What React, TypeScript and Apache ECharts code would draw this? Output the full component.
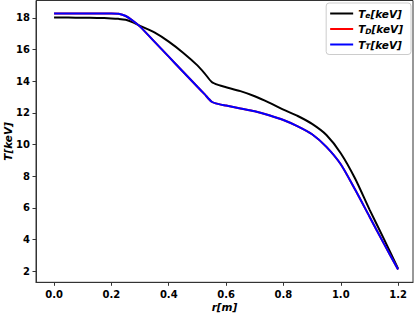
import React, { useEffect, useRef } from "react";
import * as echarts from "echarts";

const rValues = [0, 0.05, 0.1, 0.15, 0.2, 0.225, 0.25, 0.275, 0.3, 0.35, 0.4, 0.45, 0.5, 0.525, 0.55, 0.575, 0.6, 0.65, 0.7, 0.75, 0.8, 0.85, 0.9, 0.95, 1.0, 1.05, 1.1, 1.15, 1.2];
const teValues = [18.02, 18.02, 18.01, 18.0, 17.97, 17.94, 17.88, 17.72, 17.5, 17.08, 16.5, 15.8, 15.0, 14.5, 13.95, 13.75, 13.62, 13.37, 13.05, 12.65, 12.2, 11.8, 11.3, 10.6, 9.45, 7.85, 5.9, 4.05, 2.15];
const tdValues = [18.28, 18.28, 18.28, 18.28, 18.28, 18.26, 18.12, 17.82, 17.45, 16.5, 15.55, 14.6, 13.65, 13.18, 12.7, 12.55, 12.46, 12.28, 12.1, 11.85, 11.55, 11.15, 10.65, 9.85, 8.75, 7.15, 5.45, 3.75, 2.1];
const ttValues = [18.28, 18.28, 18.28, 18.28, 18.28, 18.26, 18.12, 17.82, 17.45, 16.5, 15.55, 14.6, 13.65, 13.18, 12.7, 12.55, 12.46, 12.28, 12.1, 11.85, 11.55, 11.15, 10.65, 9.85, 8.75, 7.15, 5.45, 3.75, 2.1];
const xTicks = [0, 0.2, 0.4, 0.6, 0.8, 1.0, 1.2];
const yTicks = [2, 4, 6, 8, 10, 12, 14, 16, 18];
const seriesNames = ["Te", "TD", "TT"];
const seriesColors = ["#000000", "#ff0000", "#0000ff"];

const FONT = "DejaVu Sans";

export default function App() {
  const ref = useRef<HTMLDivElement>(null);
  useEffect(() => {
    if (!ref.current) return;
    const chart = echarts.init(ref.current, null, { renderer: "svg" });
    const allValues = [teValues, tdValues, ttValues];
    chart.setOption({
      animation: false,
      backgroundColor: "#ffffff",
      grid: {
        left: 36,
        right: 2,
        top: 0.5,
        bottom: 32.7,
        show: true,
        borderColor: "#333",
        borderWidth: 1,
        containLabel: false,
        outerBoundsMode: "none",
      },
      legend: {
        orient: "vertical",
        right: 4,
        top: 3,
        padding: [5, 8, 4, 4],
        itemGap: 4,
        itemWidth: 23,
        itemHeight: 2,
        icon: "rect",
        borderColor: "#cccccc",
        borderWidth: 1,
        borderRadius: 3,
        backgroundColor: "rgba(255,255,255,0.8)",
        data: seriesNames,
        formatter: (name: string) => `{a|T}{s|${name.slice(1)}}{a|[keV]}`,
        textStyle: {
          rich: {
            a: { fontFamily: FONT, fontWeight: "bold", fontStyle: "italic", fontSize: 10.5, color: "#000", lineHeight: 12, verticalAlign: "middle" },
            s: { fontFamily: FONT, fontWeight: "bold", fontStyle: "italic", fontSize: 7.5, color: "#000", lineHeight: 8, verticalAlign: "bottom" },
          },
        },
      },
      xAxis: {
        type: "value",
        min: -0.063,
        max: 1.252,
        name: "r[m]",
        nameLocation: "middle",
        nameGap: 19,
        nameMoveOverlap: false,
        nameTextStyle: { fontFamily: FONT, fontWeight: "bold", fontStyle: "italic", fontSize: 10.5, color: "#000", verticalAlign: "top" },
        axisLine: { show: true, onZero: false, lineStyle: { color: "#333", width: 1 } },
        axisTick: { show: true, length: 3.5, inside: false, customValues: xTicks, lineStyle: { color: "#333" } },
        axisLabel: {
          show: true,
          margin: 7,
          fontFamily: FONT,
          fontWeight: "bold",
          fontSize: 10,
          color: "#000",
          customValues: xTicks,
          formatter: (v: number) => v.toFixed(1),
        },
        splitLine: { show: false },
      },
      yAxis: {
        type: "value",
        min: 1.29,
        max: 19.1,
        name: "T[keV]",
        nameLocation: "middle",
        nameGap: 23,
        nameMoveOverlap: false,
        nameTextStyle: { fontFamily: FONT, fontWeight: "bold", fontStyle: "italic", fontSize: 10.5, color: "#000" },
        axisLine: { show: true, onZero: false, lineStyle: { color: "#333", width: 1 } },
        axisTick: { show: true, length: 3.5, inside: false, customValues: yTicks, lineStyle: { color: "#333" } },
        axisLabel: {
          show: true,
          margin: 6,
          fontFamily: FONT,
          fontWeight: "bold",
          fontSize: 10,
          color: "#000",
          customValues: yTicks,
        },
        splitLine: { show: false },
      },
      series: seriesNames.map((name, i) => ({
        name,
        type: "line",
        data: rValues.map((r, j) => [r, allValues[i][j]]),
        showSymbol: false,
        symbol: "none",
        smooth: 0.25,
        lineStyle: { color: seriesColors[i], width: 2 },
        itemStyle: { color: seriesColors[i] },
        z: 2 + i,
      })),
    });
    return () => chart.dispose();
  }, []);
  return <div ref={ref} style={{ position: "absolute", left: 0, top: 0, width: 415, height: 315 }} />;
}
